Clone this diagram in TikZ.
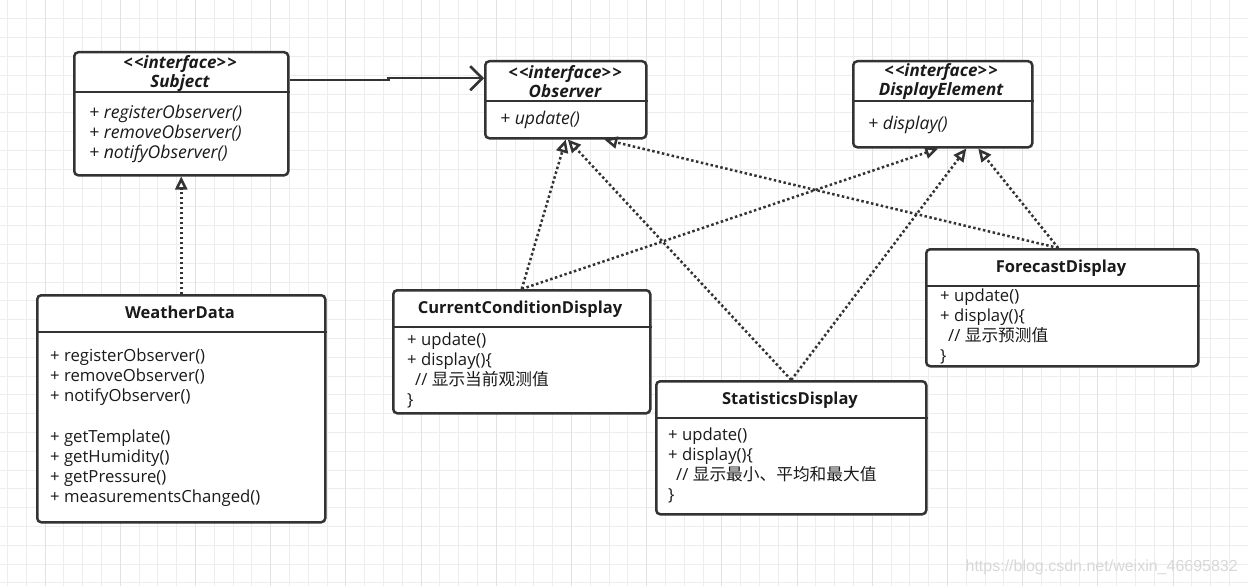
\documentclass[tikz,border=0pt]{standalone}
\usepackage{fontspec}
\setmainfont{Open Sans}
\newfontfamily\cjk{Noto Sans CJK SC}
\newfontfamily\wmfont{Liberation Sans}
\usetikzlibrary{arrows.meta}
\definecolor{ink}{HTML}{333333}
\definecolor{txt}{HTML}{1A1A1A}
\definecolor{gridc}{HTML}{EDEDED}
\definecolor{gridd}{HTML}{E2E2E2}
\definecolor{wm}{HTML}{D8D8D8}
\newcommand{\iface}{<\kern1.5pt<interface>\kern1.5pt>}
\begin{document}
\begin{tikzpicture}[x=1pt,y=-1pt,
  box/.style={draw=ink, line width=2.5pt, rounded corners=4pt, fill=white, inner sep=0pt, anchor=north west},
  sep/.style={draw=ink, line width=2.5pt},
  ttl/.style={font=\fontsize{16.5}{19}\selectfont\bfseries, text=txt, align=center, inner sep=0pt, text height=12pt, text depth=3.5pt},
  ittl/.style={font=\fontsize{17}{19}\selectfont\bfseries\itshape, text=txt, align=center, inner sep=0pt},
  meth/.style={font=\fontsize{16.7}{20}\selectfont, text=txt, align=left, anchor=north west, inner sep=0pt},
  imeth/.style={meth, font=\fontsize{17.6}{20}\selectfont\itshape},
  dep/.style={draw=ink, line width=2.5pt, dash pattern=on 2.5pt off 2.5pt, -{Triangle[length=13pt,width=12pt,fill=white]}},
  assoc/.style={draw=ink, line width=2.5pt, -{Straight Barb[length=12pt,width=24pt]}}
]
\useasboundingbox (0,0) rectangle (1248,586);
\fill[white] (0,0) rectangle (1248,586);
% grid
\foreach \i in {0,...,66} {\draw[gridc, line width=1pt] ({7.4+18.8*\i},0) -- ({7.4+18.8*\i},586);}
\foreach \j in {0,...,31} {\draw[gridc, line width=1pt] (0,{18.8*\j}) -- (1248,{18.8*\j});}
\foreach \i in {2,6,...,66} {\draw[gridd, line width=1pt] ({7.4+18.8*\i},0) -- ({7.4+18.8*\i},586);}

% boxes
\node[box, minimum width=214pt, minimum height=123pt] (subject) at (73,51) {};
\node[box, minimum width=161pt, minimum height=77pt] (observer) at (484,60) {};
\node[box, minimum width=179pt, minimum height=86pt] (display) at (852,60) {};
\node[box, minimum width=288pt, minimum height=227pt] (weather) at (36,294) {};
\node[box, minimum width=257pt, minimum height=123pt] (current) at (392,289) {};
\node[box, minimum width=270pt, minimum height=133pt] (stats) at (655,380) {};
\node[box, minimum width=272pt, minimum height=117pt] (forecast) at (925,248) {};

% dividers
\draw[sep] (subject.west |- 0,92) -- (subject.east |- 0,92);
\draw[sep] (observer.west |- 0,101) -- (observer.east |- 0,101);
\draw[sep] (display.west |- 0,101) -- (display.east |- 0,101);
\draw[sep] (weather.west |- 0,332) -- (weather.east |- 0,332);
\draw[sep] (current.west |- 0,327) -- (current.east |- 0,327);
\draw[sep] (stats.west |- 0,418) -- (stats.east |- 0,418);
\draw[sep] (forecast.west |- 0,286) -- (forecast.east |- 0,286);

% titles
\node[ittl] (subjectT) at (180,73.5) {\iface\\Subject};
\node[ittl] (observerT) at (565,81.5) {\iface\\Observer};
\node[ittl] (displayT) at (941,81.5) {\iface\\DisplayElement};
\node[ttl] (weatherT) at (180,314.5) {WeatherData};
\node[ttl] (currentT) at (520,309.5) {CurrentConditionDisplay};
\node[ttl] (statsT) at (790,400.5) {StatisticsDisplay};
\node[ttl] (forecastT) at (1061,268.5) {ForecastDisplay};

% members
\node[imeth] (subjectM) at (89,104.5) {+ registerObserver()\\+ removeObserver()\\+ notifyObserver()};
\node[imeth] (observerM) at (500,110.5) {+ update()};
\node[imeth] (displayM) at (868,115.5) {+ display()};
\node[meth] (weatherM) at (50,349) {+ registerObserver()\\+ removeObserver()\\+ notifyObserver()\\[21pt]+ getTemplate()\\+ getHumidity()\\+ getPressure()\\+ measurementsChanged()};
\node[meth] (currentM) at (407,333) {+ update()\\+ display()\{\\\hspace{8pt}// {\cjk 显示当前观测值}\\\}};
\node[meth] (statsM) at (668,428) {+ update()\\+ display()\{\\\hspace{8pt}// {\cjk 显示最小、平均和最大值}\\\}};
\node[meth] (forecastM) at (940,289) {+ update()\\+ display()\{\\\hspace{8pt}// {\cjk 显示预测值}\\\}};

% connectors
\draw[assoc] ([yshift=33.5pt]subject.east) -- ++(99,0) |- ([yshift=21.5pt]observer.west);
\draw[dep] (weather.north) -- (subject.south);
\draw[dep] (current.north) -- (observer.south);
\draw[dep] (current.north) -- ([xshift=-4.5pt]display.south);
\draw[dep] (stats.north) -- ([xshift=2pt]observer.south);
\draw[dep] (stats.north) -- ([xshift=23.5pt]display.south);
\draw[dep] ([xshift=-4pt]forecast.north) -- ([xshift=38.5pt]observer.south);
\draw[dep] ([xshift=-4pt]forecast.north) -- ([xshift=35.5pt]display.south);

% watermark
\node[anchor=east, inner sep=0pt, text=wm, font=\wmfont\fontsize{16}{18}\selectfont] (wmark) at (1238,567) {https://blog.csdn.net/weixin\_46695832};
\end{tikzpicture}
\end{document}
